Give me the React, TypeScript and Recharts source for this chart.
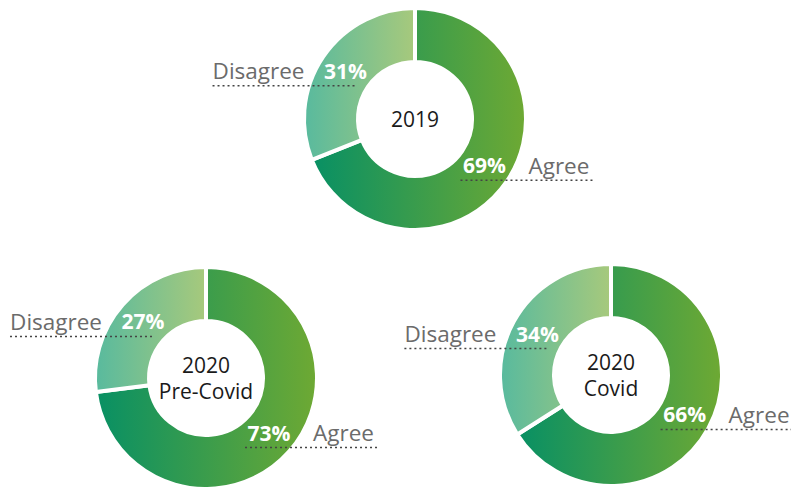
import React from 'react';
import { PieChart, Pie, Cell } from 'recharts';

// Survey answers, shared by all three rings
const responses = ['Agree', 'Disagree'];
const values2019 = [69, 31];
const values2020PreCovid = [73, 27];
const values2020Covid = [66, 34];
const centerTitles: string[][] = [['2019'], ['2020', 'Pre-Covid'], ['2020', 'Covid']];

const FONT = '"Open Sans", "Noto Sans", sans-serif';
const RAD = Math.PI / 180;

const build = (vals: number[]) => responses.map((name, i) => ({ name, value: vals[i] }));

const rings = [
  { data: build(values2019), title: centerTitles[0], cx: 415, cy: 119 },
  { data: build(values2020PreCovid), title: centerTitles[1], cx: 206, cy: 378 },
  { data: build(values2020Covid), title: centerTitles[2], cx: 611, cy: 375 },
];

const INNER = 57;
const OUTER = 111;

const makeLabel = (title: string[]) => (props: any) => {
  const { cx, cy, midAngle, innerRadius, outerRadius, name, value, index } = props;
  const r = (innerRadius + outerRadius) / 2;
  const x = cx + r * Math.cos(-midAngle * RAD);
  const y = cy + r * Math.sin(-midAngle * RAD) - 1;
  const right = x > cx;
  const lineY = y + 15;
  const step = 26;
  const start = cy - ((title.length - 1) * step) / 2;
  return (
    <g>
      {index === 0 &&
        title.map((t, i) => (
          <text
            key={t}
            x={cx}
            y={start + i * step}
            fill="#1a1a1a"
            fontFamily={FONT}
            fontSize={21}
            textAnchor="middle"
            dominantBaseline="central"
          >
            {t}
          </text>
        ))}
      <text
        x={x}
        y={y}
        fill="#ffffff"
        fontFamily={FONT}
        fontWeight={700}
        fontSize={21}
        textAnchor="middle"
        dominantBaseline="central"
      >
        {`${value}%`}
      </text>
      <text
        x={right ? x + 44 : x - 41}
        y={y}
        fill="#6b6b6b"
        fontFamily={FONT}
        fontSize={22.5}
        textAnchor={right ? 'start' : 'end'}
        dominantBaseline="central"
      >
        {name}
      </text>
      <line
        x1={right ? x - 24 : x - 133}
        x2={right ? x + 109 : x + 11}
        y1={lineY}
        y2={lineY}
        stroke="#444444"
        strokeWidth={1.5}
        strokeDasharray="2 3"
      />
    </g>
  );
};

export default function App() {
  return (
    <div style={{ position: 'absolute', left: 0, top: 0, width: 791, height: 487, background: '#ffffff' }}>
      <PieChart width={791} height={487} margin={{ top: 0, right: 0, bottom: 0, left: 0 }}>
        <defs>
          <linearGradient id="agreeFill" x1="0" y1="0" x2="1" y2="0">
            <stop offset="0%" stopColor="#089064" />
            <stop offset="100%" stopColor="#6ea933" />
          </linearGradient>
          <linearGradient id="disagreeFill" x1="0" y1="0" x2="1" y2="0">
            <stop offset="0%" stopColor="#58ba9e" />
            <stop offset="100%" stopColor="#a7c97c" />
          </linearGradient>
        </defs>
        {rings.map((ring, i) => (
          <Pie
            key={i}
            data={ring.data}
            dataKey="value"
            nameKey="name"
            cx={ring.cx}
            cy={ring.cy}
            innerRadius={INNER}
            outerRadius={OUTER}
            startAngle={90}
            endAngle={-270}
            stroke="#ffffff"
            strokeWidth={4}
            isAnimationActive={false}
            labelLine={false}
            label={makeLabel(ring.title)}
          >
            {ring.data.map((d, j) => (
              <Cell key={d.name} fill={j === 0 ? 'url(#agreeFill)' : 'url(#disagreeFill)'} />
            ))}
          </Pie>
        ))}
      </PieChart>
    </div>
  );
}
